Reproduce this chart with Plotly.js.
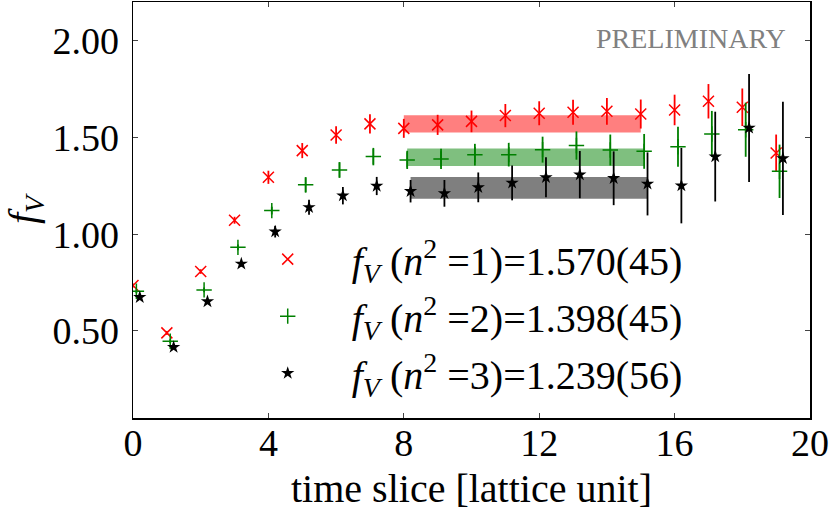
<!DOCTYPE html>
<html>
<head>
<meta charset="utf-8">
<script src="https://cdn.plot.ly/plotly-3.0.1.min.js"></script>
<style>
  html, body { margin: 0; padding: 0; background: #fff; }
  #myDiv { width: 830px; height: 511px; }
</style>
</head>
<body>
<div id="myDiv"></div>
<script>
// time slices
var tSlice = [0, 1, 2, 3, 4, 5, 6, 7, 8, 9, 10, 11, 12, 13, 14, 15, 16, 17, 18, 19];

// n^2 = 1
var fv1 = [0.735, 0.49, 0.807, 1.072, 1.294, 1.432, 1.513, 1.570, 1.547, 1.565,
           1.583, 1.613, 1.625, 1.630, 1.635, 1.621, 1.642, 1.687, 1.656, 1.42];
var fv1Err = [0.01, 0.01, 0.012, 0.018, 0.034, 0.039, 0.045, 0.05, 0.049, 0.052,
              0.056, 0.06, 0.062, 0.065, 0.069, 0.075, 0.079, 0.089, 0.097, 0.095];

// n^2 = 2
var fv2 = [0.705, 0.447, 0.712, 0.932, 1.122, 1.255, 1.332, 1.401, 1.384, 1.389,
           1.411, 1.411, 1.437, 1.458, 1.435, 1.428, 1.452, 1.518, 1.540, 1.325];
var fv2Err = [0.01, 0.01, 0.012, 0.015, 0.02, 0.039, 0.04, 0.045, 0.047, 0.052,
              0.056, 0.061, 0.067, 0.073, 0.08, 0.09, 0.103, 0.119, 0.14, 0.138];

// n^2 = 3
var fv3 = [0.674, 0.416, 0.652, 0.847, 1.013, 1.139, 1.199, 1.249, 1.222, 1.211,
           1.242, 1.265, 1.294, 1.308, 1.289, 1.26, 1.251, 1.401, 1.549, 1.392];
var fv3Err = [0.01, 0.01, 0.012, 0.015, 0.03, 0.039, 0.045, 0.047, 0.058, 0.069,
              0.077, 0.09, 0.103, 0.122, 0.139, 0.163, 0.195, 0.232, 0.279, 0.293];

// fit results (plateau)
var fitFrom = [8, 8, 8];
var fitTo = [15, 15, 15];
var fitVal = [1.570, 1.398, 1.239];
var fitErr = [0.045, 0.045, 0.056];
var fitLabels = ['1.570(45)', '1.398(45)', '1.239(56)'];

var colors = ['#ff0000', '#008000', '#000000'];
var bandColors = ['rgba(255,0,0,0.5)', 'rgba(0,128,0,0.5)', 'rgba(0,0,0,0.5)'];
var shifts = [0, 0.1, 0.2];   // small horizontal offset between the three sets
var symbols = ['x-thin', 'cross-thin', 'star'];

var sets = [[fv1, fv1Err], [fv2, fv2Err], [fv3, fv3Err]];

var bands = [];
var points = [];
for (var i = 0; i < 3; i++) {
  var x0 = fitFrom[i] + shifts[i], x1 = fitTo[i] + shifts[i];
  var lo = fitVal[i] - fitErr[i], hi = fitVal[i] + fitErr[i];
  bands.push({
    x: [x0, x1, x1, x0, x0],
    y: [lo, lo, hi, hi, lo],
    mode: 'lines',
    fill: 'toself',
    fillcolor: bandColors[i],
    line: {width: 0},
    hoverinfo: 'skip',
    showlegend: false
  });
  var isStar = symbols[i] == 'star';
  points.push({
    x: tSlice.map(function (t) { return t + shifts[i]; }),
    y: sets[i][0],
    error_y: {type: 'data', array: sets[i][1], visible: true,
              color: colors[i], thickness: 1.8, width: 0},
    mode: 'markers',
    marker: {
      symbol: symbols[i],
      size: isStar ? 10 : 11,
      color: colors[i],
      line: {color: colors[i], width: isStar ? 0 : 1.5}
    },
    legendgroup: 'g' + i,
    name: '<i>f</i><sub><i>V</i></sub> (<i>n</i><sup>2</sup> =' + (i + 1) + ')=' + fitLabels[i]
  });
}

var data = bands.concat(points);

var serif = 'Liberation Serif';

var layout = {
  width: 830,
  height: 511,
  margin: {l: 133, r: 20, t: 2, b: 93},
  paper_bgcolor: '#fff',
  plot_bgcolor: '#fff',
  font: {family: serif, size: 38, color: '#000'},
  showlegend: true,
  legend: {
    x: 0.134,
    y: 0.46,
    xanchor: 'left',
    yanchor: 'top',
    bgcolor: 'rgba(0,0,0,0)',
    itemwidth: 118,
    tracegroupgap: 2,
    traceorder: 'grouped',
    font: {family: serif, size: 40, color: '#000'}
  },
  xaxis: {
    range: [0, 20],
    dtick: 4,
    tick0: 0,
    showgrid: false,
    zeroline: false,
    showline: true,
    linecolor: '#000',
    linewidth: 1.5,
    mirror: 'ticks',
    ticks: 'inside',
    ticklen: 5,
    tickcolor: '#444',
    ticklabelstandoff: -9,
    tickfont: {family: serif, size: 38, color: '#000'},
    title: {text: 'time slice [lattice unit]', font: {family: serif, size: 40, color: '#000'}, standoff: 20}
  },
  yaxis: {
    range: [0.05, 2.2],
    dtick: 0.5,
    tick0: 0,
    tickformat: '.2f',
    showgrid: false,
    zeroline: false,
    showline: true,
    linecolor: '#000',
    linewidth: 1.5,
    mirror: 'ticks',
    ticks: 'inside',
    ticklen: 5,
    tickcolor: '#444',
    ticklabelstandoff: 5,
    tickfont: {family: serif, size: 38, color: '#000'},
    title: {text: '<i>f</i><sub><i>V</i></sub>', font: {family: serif, size: 40, color: '#000'}, standoff: 10}
  },
  annotations: [{
    text: 'PRELIMINARY',
    xref: 'paper', yref: 'paper',
    x: 0.967, y: 0.913,
    xanchor: 'right', yanchor: 'middle',
    showarrow: false,
    font: {family: serif, size: 28, color: '#808080'}
  }]
};

Plotly.newPlot('myDiv', data, layout, {displayModeBar: false, staticPlot: true});
</script>
</body>
</html>
